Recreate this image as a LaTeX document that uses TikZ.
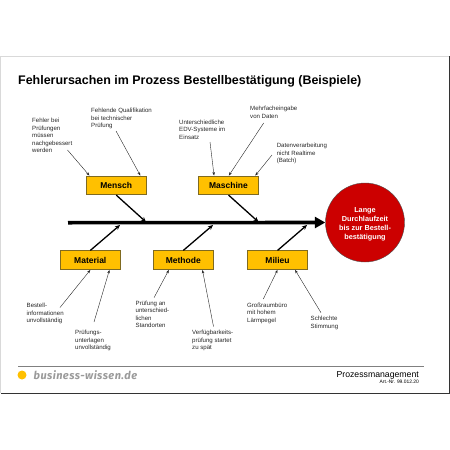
\documentclass[tikz,border=0pt]{standalone}
\usepackage{fontspec}
\setmainfont{Liberation Sans}
\newfontfamily\logofont[LetterSpace=4]{Fira Sans}
\usetikzlibrary{arrows.meta}
\definecolor{boxfill}{HTML}{FFC000}
\definecolor{boxline}{HTML}{7F6A20}
\definecolor{effectred}{HTML}{CC0000}
\definecolor{logogray}{HTML}{9A9A9A}
\begin{document}
\begin{tikzpicture}[
  x=1pt, y=-1pt,
  box/.style = {draw=boxline, fill=boxfill, line width=0.7pt, minimum width=60.5pt, minimum height=18.8pt, inner sep=0pt, font=\fontsize{8.5}{10}\selectfont\bfseries},
  note/.style = {anchor=north west, align=left, inner sep=0pt, text=black!85, font=\fontsize{6.1}{7.5}\selectfont},
  arrow/.style = {line width=0.4pt, black!85, -{Stealth[length=3.5pt,width=2.6pt]}},
  bone/.style = {line width=1.3pt, -{Stealth[length=5pt,width=4.5pt]}}
]
\useasboundingbox (0,0) rectangle (450,450);

% Page frame
\draw [black!15, line width=1pt] (0.5,393) -- (0.5,56) -- (449,56);
\draw [black!80, line width=0.8pt] (449,56) -- (449,393) -- (0.5,393);

% Title
\node [anchor=base west, inner sep=0pt, font=\fontsize{12.45}{14}\selectfont\bfseries] (title) at (18,84.5)
  {Fehlerursachen im Prozess Bestellbestätigung (Beispiele)};

% Spine and effect
\node [circle, draw=black!70, line width=0.4pt, fill=effectred, minimum size=79pt, inner sep=0pt, align=center, text=white, font=\fontsize{7.3}{9.1}\selectfont\bfseries] (effect) at (365,222.5)
  {\rule{0pt}{8pt}Lange\\Durchlaufzeit\\bis zur Bestell-\\bestätigung};
\coordinate (spinestart) at (68,222.7);
\draw [line width=3.6pt, -{Triangle[length=10.5pt,width=11pt]}] (spinestart) -- (effect.west);

% Upper row
\node [box] (mensch) at (116.2,185.3) {Mensch};
\node [box] (maschine) at (228.5,185.3) {Maschine};
\coordinate (menschend) at (146,222);
\coordinate (maschineend) at (258.5,222);
\draw [bone] (mensch.south) -- (menschend);
\draw [bone] (maschine.south) -- (maschineend);

% Lower row
\node [box] (material) at (90.3,260.2) {Material};
\node [box] (methode) at (183.3,260.2) {Methode};
\node [box] (milieu) at (277.5,260.2) {Milieu};
\coordinate (materialend) at (120,225);
\coordinate (methodeend) at (213,225);
\coordinate (milieuend) at (307,225);
\draw [bone] (material.north) -- (materialend);
\draw [bone] (methode.north) -- (methodeend);
\draw [bone] (milieu.north) -- (milieuend);

% Notes above
\node [note] (fehler) at (32,118) {Fehler bei\\Prüfungen\\müssen\\nachgebessert\\werden};
\node [note] (qualifikation) at (91,108) {Fehlende Qualifikation\\bei technischer\\Prüfung};
\node [note] (edv) at (179,119.5) {Unterschiedliche\\EDV-Systeme im\\Einsatz};
\node [note] (eingabe) at (250,106) {Mehrfacheingabe\\von Daten};
\node [note] (batch) at (276.6,143) {Datenverarbeitung\\nicht Realtime\\(Batch)};

% Notes below
\node [note] (bestell) at (26.5,303) {Bestell-\\informationen\\unvollständig};
\node [note] (unterlagen) at (75,330) {Prüfungs-\\unterlagen\\unvollständig};
\node [note] (standorten) at (135.5,300.5) {Prüfung an\\unterschied-\\lichen\\Standorten};
\node [note] (spaet) at (192,330) {Verfügbarkeits-\\prüfung startet\\zu spät};
\node [note] (laerm) at (247,302.5) {Großraumbüro\\mit hohem\\Lärmpegel};
\node [note] (stimmung) at (310.5,316) {Schlechte\\Stimmung};

% Free ends beside the notes
\coordinate (fehlerout) at (67.5,150);
\coordinate (qualifikationout) at (116,131);
\coordinate (edvout) at (210,142);
\coordinate (eingabeout) at (263.7,123);
\coordinate (batchout) at (272,155);
\coordinate (bestellout) at (60,307.5);
\coordinate (unterlagenout) at (94,322);
\coordinate (standortenout) at (154,297.7);
\coordinate (spaetout) at (213.5,326.5);
\coordinate (laermout) at (263.3,299);
\coordinate (stimmungout) at (321,312.7);

% Arrows to the boxes
\draw [arrow] (fehlerout) -- (mensch.160);
\draw [arrow] (qualifikationout) -- (mensch.22);
\draw [arrow] (edvout) -- (maschine.146);
\draw [arrow] (eingabeout) -- (maschine.88);
\draw [arrow] (batchout) -- (maschine.20);
\draw [arrow] (bestellout) -- (material.270);
\draw [arrow] (unterlagenout) -- (material.333);
\draw [arrow] (standortenout) -- (methode.214);
\draw [arrow] (spaetout) -- (methode.333);
\draw [arrow] (laermout) -- (milieu.270);
\draw [arrow] (stimmungout) -- (milieu.331);

% Footer
\coordinate (rulestart) at (18,366);
\coordinate (ruleend) at (424,366);
\draw [black!50, line width=0.7pt] (rulestart) -- (ruleend);
\node [circle, fill=boxfill, minimum size=9pt, inner sep=0pt] (logodot) at (22,375) {};
\node [anchor=west, inner sep=0pt, text=logogray, font=\logofont\fontsize{11}{12}\selectfont\bfseries\itshape] (logo) at (33.5,375.5) {business-wissen.de};
\node [anchor=base east, inner sep=0pt, font=\fontsize{8.7}{10}\selectfont] (prozess) at (419,377) {Prozessmanagement};
\node [anchor=base east, inner sep=0pt, font=\fontsize{4.9}{5}\selectfont] (artnr) at (419,383.5) {Art.-Nr. 99.012.20};
\end{tikzpicture}
\end{document}
